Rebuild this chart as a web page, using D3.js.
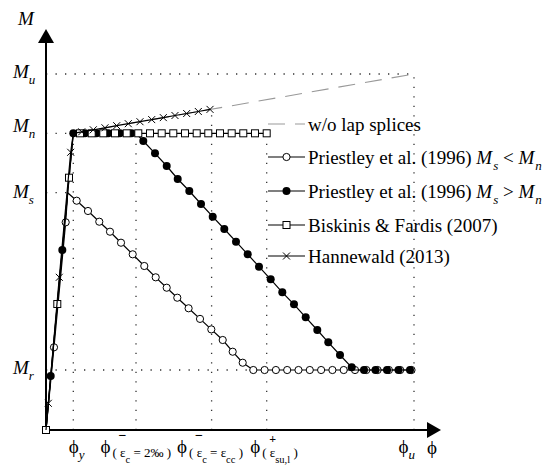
<!DOCTYPE html>
<html>
<head>
<meta charset="utf-8">
<script src="https://cdn.jsdelivr.net/npm/d3@7/dist/d3.min.js"></script>
<style>
html,body{margin:0;padding:0;background:#fff;}
svg{display:block;}
text{font-family:"Liberation Serif","Times New Roman",Times,serif;fill:#000;}
</style>
</head>
<body>
<svg id="chart" width="545" height="468" font-family="'Liberation Serif','Times New Roman',serif"></svg>
<script>
// ---------- DATA (curvature φ normalised to φu, moment M normalised to Mu) ----------
const phiTicks   = [0.0742, 0.2446, 0.4500, 0.5997, 1.0];   // φy, φ−(εc=2‰), φ−(εc=εcc), φ+(εsu,l), φu
const phiTickSup = ["", "−", "−", "+", ""];
const phiTickSub = [["y"], ["( ε", "c", " = 2‰ )"], ["( ε", "c", " = ε", "cc", " )"], ["( ε", "su,l", " )"], ["u"]];
const momentTicks   = [1.0, 0.8334, 0.6666, 0.1685];           // Mu, Mn, Ms, Mr
const momentTickSub = ["u", "n", "s", "r"];

// extents of the dotted guide lines
const hGuideEnd = [1.0, 0.0742, 0.0590, 0.5633];              // φ where each M guide stops
const vGuideTop = [0.8334, 0.8334, 0.9006, 0.8334, 1.0];      // M where each φ guide starts

const legendLabels = ["w/o lap splices",
  "Priestley et al. (1996) M_s < M_n",
  "Priestley et al. (1996) M_s > M_n",
  "Biskinis & Fardis (2007)",
  "Hannewald (2013)"];

// w/o lap splices (grey dashed)
const woLapPhi = [0, 0.0742, 1.0];
const woLapM   = [0, 0.8334, 1.0];

// Priestley et al. (1996) Ms < Mn  (open circles)
const prLowPhi = [0, 0.0217, 0.0535, 0.0590, 0.0834, 0.1141, 0.1448, 0.1739, 0.2038, 0.2356, 0.2671, 0.2981, 0.3280, 0.3568, 0.3875, 0.4185, 0.4492, 0.4802, 0.5073, 0.5345,
  0.5633, 0.5940, 0.6247, 0.6554, 0.6861, 0.7168, 0.7476, 0.7783, 0.8090, 0.8397, 0.8704, 0.9011, 0.9318, 0.9625, 0.9932];
const prLowM   = [0, 0.2323, 0.5834, 0.6666, 0.6441, 0.6152, 0.5851, 0.5570, 0.5261, 0.4935, 0.4607, 0.4289, 0.3997, 0.3716, 0.3419, 0.3121, 0.2826, 0.2528, 0.2199, 0.1890,
  0.1685, 0.1685, 0.1685, 0.1685, 0.1685, 0.1685, 0.1685, 0.1685, 0.1685, 0.1685, 0.1685, 0.1685, 0.1685, 0.1685, 0.1685];
const prLowNoMark = [0, 3];

// Priestley et al. (1996) Ms > Mn  (filled circles)
const prHighPhi = [0, 0.0128, 0.0443, 0.0742, 0.1060, 0.1375, 0.1693, 0.2008, 0.2326, 0.2446,
  0.2644, 0.2962, 0.3280, 0.3579, 0.3894, 0.4212, 0.4530, 0.4845, 0.5163, 0.5481, 0.5788, 0.6106, 0.6421, 0.6739, 0.7057, 0.7372, 0.7671, 0.7989, 0.8307,
  0.8375, 0.8641, 0.8954, 0.9266, 0.9579, 0.9891];
const prHighM   = [0, 0.1517, 0.5056, 0.8334, 0.8334, 0.8334, 0.8334, 0.8334, 0.8334, 0.8334,
  0.8118, 0.7772, 0.7416, 0.7051, 0.6713, 0.6348, 0.5992, 0.5646, 0.5289, 0.4935, 0.4587, 0.4233, 0.3868, 0.3531, 0.3166, 0.2809, 0.2463, 0.2107, 0.1761,
  0.1685, 0.1685, 0.1685, 0.1685, 0.1685, 0.1685];
const prHighNoMark = [0, 9, 29];

// Biskinis & Fardis (2007)  (open squares)
const bfPhi = [0, 0.0307, 0.0625, 0.0742, 0.0924, 0.1242, 0.1557, 0.1875, 0.2193, 0.2508, 0.2826, 0.3144, 0.3459, 0.3777, 0.4095, 0.4410, 0.4728, 0.5046, 0.5361, 0.5679, 0.5997];
const bfM   = [0, 0.3539, 0.7087, 0.8334, 0.8334, 0.8334, 0.8334, 0.8334, 0.8334, 0.8334, 0.8334, 0.8334, 0.8334, 0.8334, 0.8334, 0.8334, 0.8334, 0.8334, 0.8334, 0.8334, 0.8334];
const bfNoMark = [3];

// Hannewald (2013)  (crosses)
const hwPhi = [0, 0.0063, 0.0361, 0.0671, 0.0742, 0.0970, 0.1285, 0.1603, 0.1921, 0.2236, 0.2554, 0.2872, 0.3188, 0.3505, 0.3823, 0.4139, 0.4457];
const hwM   = [0, 0.0750, 0.4289, 0.7801, 0.8334, 0.8376, 0.8433, 0.8489, 0.8548, 0.8604, 0.8660, 0.8719, 0.8775, 0.8834, 0.8890, 0.8947, 0.9006];
const hwNoMark = [0, 4];

// ---------- DRAWING ----------
const svg = d3.select("#chart");
const x = d3.scaleLinear().domain([0, 1]).range([46, 414]);
const y = d3.scaleLinear().domain([0, 1]).range([430, 74]);
const FS = 19;
const PHI = "\u03D5";

// dotted guides
const gGuide = svg.append("g").attr("stroke", "#333").attr("stroke-width", 1.3)
  .attr("stroke-dasharray", "1.3,8.2").attr("fill", "none");
momentTicks.forEach((m, i) => {
  gGuide.append("line").attr("x1", x(0)).attr("x2", x(hGuideEnd[i])).attr("y1", y(m)).attr("y2", y(m));
});
phiTicks.forEach((p, i) => {
  gGuide.append("line").attr("x1", x(p)).attr("x2", x(p)).attr("y1", y(0)).attr("y2", y(vGuideTop[i]));
});

// axes (library axes for the tick positions, labels built as rich text)
const xAxisG = svg.append("g").attr("transform", `translate(0,${y(0)})`)
  .call(d3.axisBottom(x).tickValues(phiTicks).tickSize(0).tickFormat(() => ""));
xAxisG.attr("font-family", null).attr("font-size", null);
xAxisG.select(".domain").remove();
const mainDx = [-5, -36, -35, -17, -16];
const supDx  = [0, -18, -17, 2, 0];
const subDx  = [0, -24, -23, -5, 0];
xAxisG.selectAll(".tick").each(function (d, i) {
  const g = d3.select(this);
  g.select("text").remove();
  const t = g.append("text").attr("x", mainDx[i]).attr("y", 23).attr("font-size", FS).attr("text-anchor", "start");
  t.append("tspan").text(PHI);
  if (phiTickSub[i].length === 1) {
    t.append("tspan").attr("dy", 6).attr("font-size", 13).attr("font-style", "italic").text(phiTickSub[i][0]);
  } else {
    const plus = phiTickSup[i] === "+";
    t.append("tspan").attr("x", supDx[i]).attr("y", plus ? 12.5 : 10)
      .attr("font-size", plus ? 12 : 14).attr("font-weight", "bold").text(phiTickSup[i]);
    phiTickSub[i].forEach((part, k) => {
      const lvl2 = k % 2 === 1;
      const ts = t.append("tspan").attr("font-size", lvl2 ? 10.5 : 13).text(part);
      if (k === 0) ts.attr("x", subDx[i]).attr("y", 27);
      else ts.attr("dy", lvl2 ? 6 : -6);
    });
  }
});

const yAxisG = svg.append("g").attr("transform", `translate(${x(0)},0)`)
  .call(d3.axisLeft(y).tickValues(momentTicks).tickSize(0).tickFormat(() => ""));
yAxisG.attr("font-family", null).attr("font-size", null);
yAxisG.select(".domain").remove();
const yNudge = [3.7, -2.3, 4.3, 3];
yAxisG.selectAll(".tick").each(function (d, i) {
  const g = d3.select(this);
  g.select("text").remove();
  const t = g.append("text").attr("x", 13 - x(0)).attr("y", yNudge[i]).attr("font-size", FS)
    .attr("font-style", "italic").attr("text-anchor", "start").text("M");
  t.append("tspan").attr("dy", 6).attr("font-size", 13).text(momentTickSub[i]);
});

// axis lines with arrows
const axisG = svg.append("g");
axisG.append("line").attr("x1", x(0)).attr("x2", x(0)).attr("y1", y(0)).attr("y2", 42).attr("stroke", "#000").attr("stroke-width", 2);
axisG.append("path").attr("d", `M${x(0)},29 L${x(0) - 8},43 L${x(0) + 8},43 Z`).attr("fill", "#000");
axisG.append("line").attr("x1", x(0)).attr("x2", 428).attr("y1", y(0)).attr("y2", y(0)).attr("stroke", "#000").attr("stroke-width", 2);
axisG.append("path").attr("d", `M441,${y(0)} L427,${y(0) - 8} L427,${y(0) + 8} Z`).attr("fill", "#000");
axisG.append("text").attr("x", 26).attr("y", 25).attr("text-anchor", "middle").attr("font-size", FS).attr("font-style", "italic").text("M");
axisG.append("text").attr("x", 427).attr("y", 454).attr("font-size", FS).text(PHI);

// markers
function drawMarker(g, type, cx, cy) {
  if (type === "o") g.append("circle").attr("cx", cx).attr("cy", cy).attr("r", 3.6).attr("fill", "#fff").attr("stroke", "#000").attr("stroke-width", 1);
  else if (type === "f") g.append("circle").attr("cx", cx).attr("cy", cy).attr("r", 4).attr("fill", "#000");
  else if (type === "s") g.append("rect").attr("x", cx - 3.5).attr("y", cy - 3.5).attr("width", 7).attr("height", 7).attr("fill", "#fff").attr("stroke", "#000").attr("stroke-width", 1);
  else if (type === "x") g.append("path").attr("d", `M${cx - 3.5},${cy - 3.5}L${cx + 3.5},${cy + 3.5}M${cx - 3.5},${cy + 3.5}L${cx + 3.5},${cy - 3.5}`).attr("stroke", "#000").attr("stroke-width", 1).attr("fill", "none");
}

const line = d3.line().x(d => x(d[0])).y(d => y(d[1]));
const series = [
  {phi: woLapPhi, m: woLapM, noMark: [0, 1, 2], type: null, color: "#999", dash: "17,10"},
  {phi: prLowPhi, m: prLowM, noMark: prLowNoMark, type: "o", color: "#000", dash: null},
  {phi: prHighPhi, m: prHighM, noMark: prHighNoMark, type: "f", color: "#000", dash: null},
  {phi: bfPhi, m: bfM, noMark: bfNoMark, type: "s", color: "#000", dash: null},
  {phi: hwPhi, m: hwM, noMark: hwNoMark, type: "x", color: "#000", dash: null}
];
const gSeries = svg.append("g");
series.forEach(s => {
  const pts = s.phi.map((p, i) => [p, s.m[i]]);
  const g = gSeries.append("g");
  g.append("path").attr("d", line(pts)).attr("fill", "none").attr("stroke", s.color).attr("stroke-width", s.dash ? 1.1 : 1.2)
    .attr("stroke-dasharray", s.dash);
  if (s.type) pts.forEach((d, i) => { if (!s.noMark.includes(i)) drawMarker(g, s.type, x(d[0]), y(d[1])); });
});

// legend
const legendRowY = [124, 157, 191, 225, 256];
const gLeg = svg.append("g");
series.forEach((s, i) => {
  const ry = legendRowY[i];
  gLeg.append("line").attr("x1", 268).attr("x2", 305).attr("y1", ry).attr("y2", ry)
    .attr("stroke", s.color).attr("stroke-width", s.dash ? 1.1 : 1.2).attr("stroke-dasharray", s.dash);
  if (s.type) drawMarker(gLeg, s.type, 286.5, ry);
  const t = gLeg.append("text").attr("x", 308).attr("y", ry + 6.5).attr("font-size", FS);
  const parts = legendLabels[i].split(/(M_[a-z])/);
  let shifted = false;
  parts.forEach(p => {
    if (!p) return;
    if (/^M_[a-z]$/.test(p)) {
      t.append("tspan").attr("font-style", "italic").attr("dy", shifted ? -6 : 0).text("M");
      t.append("tspan").attr("font-style", "italic").attr("font-size", 13).attr("dy", 6).attr("dx", 1).text(p[2]);
      shifted = true;
    } else {
      t.append("tspan").attr("dy", shifted ? -6 : 0).text(p);
      shifted = false;
    }
  });
});
</script>
</body>
</html>
